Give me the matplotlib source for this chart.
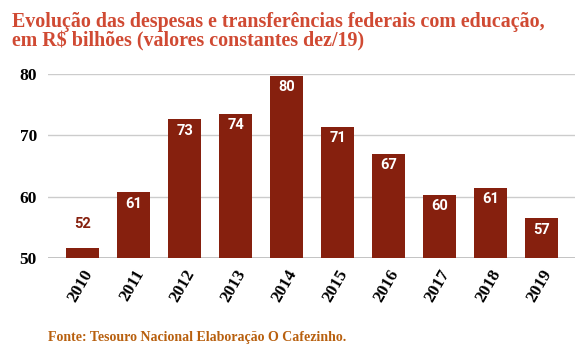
import numpy as np
import matplotlib.pyplot as plt

# dados (R$ bilhões, valores constantes dez/19)
anos = ["2010", "2011", "2012", "2013", "2014", "2015", "2016", "2017", "2018", "2019"]
valores = [51.7, 60.7, 72.6, 73.5, 79.7, 71.4, 67.0, 60.3, 61.4, 56.5]
rotulos = ["52", "61", "73", "74", "80", "71", "67", "60", "61", "57"]
yticks = [50, 60, 70, 80]

bar_color = "#86200e"
title_color = "#d04a33"
source_color = "#b8600f"

fig = plt.figure(figsize=(5.85, 3.55), dpi=100)
ax = fig.add_axes([0.082, 0.273, 0.901, 0.519])

x = np.arange(len(anos))
ax.bar(x, [v - 50 for v in valores], bottom=50, width=0.65, color=bar_color, zorder=3)

# rótulos: dentro da barra (branco) ou acima se a barra é curta
for i, (v, lab) in enumerate(zip(valores, rotulos)):
    if v - 50 < 4:
        ax.text(i, v + 3.9, lab, ha="center", va="center", color=bar_color,
                fontsize=10.5, fontweight="bold", family="Roboto", zorder=4)
    else:
        ax.text(i, v - 1.85, lab, ha="center", va="center", color="white",
                fontsize=10.5, fontweight="bold", family="Roboto", zorder=4)

ax.set_ylim(50, 80)
ax.set_xlim(-0.68, 9.66)
ax.set_yticks(yticks)
ax.set_xticks(x)
ax.set_xticklabels(anos, rotation=60, ha="right", rotation_mode="anchor")
for lbl in ax.get_xticklabels() + ax.get_yticklabels():
    lbl.set_family("Liberation Serif")
    lbl.set_fontweight("bold")
    lbl.set_fontsize(12.5)
    lbl.set_color("black")
ax.tick_params(axis="both", length=0)
ax.tick_params(axis="y", pad=8)
ax.tick_params(axis="x", pad=6)

ax.grid(axis="y", color="#cccccc", linewidth=1, zorder=0)
for s in ["top", "right", "left", "bottom"]:
    ax.spines[s].set_visible(False)
ax.axhline(50, color="#bbbbbb", linewidth=1.2, zorder=2)

fig.text(0.02, 0.965, "Evolução das despesas e transferências federais com educação,\nem R$ bilhões (valores constantes dez/19)",
         ha="left", va="top", color=title_color, fontsize=14.4, fontweight="bold",
         family="Liberation Serif", linespacing=0.95)

fig.text(0.082, 0.05, "Fonte: Tesouro Nacional Elaboração O Cafezinho.",
         ha="left", va="center", color=source_color, fontsize=10, fontweight="bold",
         family="Liberation Serif")

fig.savefig("out.png", dpi=100)
